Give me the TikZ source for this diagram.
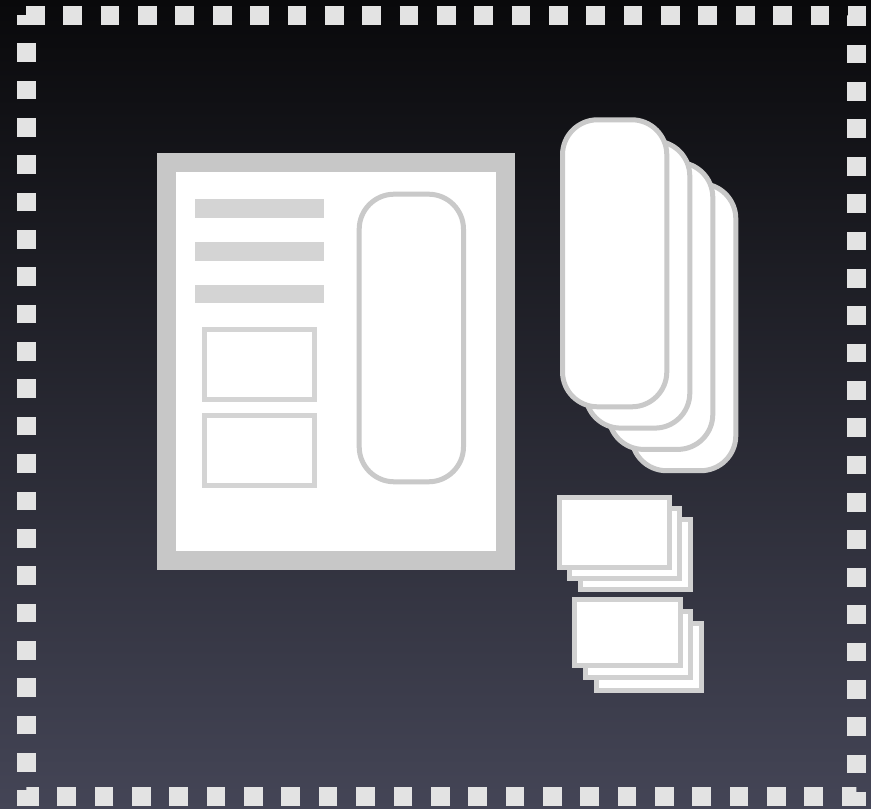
\documentclass[tikz,border=0pt]{standalone}
\usepackage{xcolor}
\usepackage{tikz}
\definecolor{bgtop}{RGB}{9,9,11}
\definecolor{bgmid}{RGB}{30,30,38}
\definecolor{bgbot}{RGB}{68,69,86}
\definecolor{dashsq}{gray}{0.89}
\definecolor{frameline}{gray}{0.78}
\definecolor{barfill}{gray}{0.83}
\definecolor{pillline}{gray}{0.79}
\definecolor{cardline}{gray}{0.82}

\begin{document}
\begin{tikzpicture}[x=1pt,y=1pt]
  \useasboundingbox (0,0) rectangle (871,809);
  \shade[top color=bgtop,middle color=bgmid,bottom color=bgbot]
    (0,0) rectangle (871,809);

  \draw[dashsq,line width=19pt,dash pattern=on 18.7pt off 18.66pt]
    (26,793.5) -- (856,793.5) -- (856,12.5) -- (26,12.5) -- cycle;

  \draw[frameline,fill=white,line width=19pt] (166.5,248.5) rectangle (505.5,646.5);

  \foreach \ylo/\yhi in {590.5/609.5,548/567,505.5/524} {
    \fill[barfill] (195,\ylo) rectangle (323.5,\yhi);
  }

  \foreach \ylo/\yhi in {409.2/479.2,323.8/393.8} {
    \draw[barfill,fill=white,line width=5pt] (204.8,\ylo) rectangle (314.2,\yhi);
  }

  \draw[pillline,fill=white,line width=5pt,rounded corners=35pt]
    (359.2,327.2) rectangle (463.5,614.8);

  \foreach \k in {3,2,1,0} {
    \draw[pillline,fill=white,line width=5pt,rounded corners=35pt]
      (562.5+23*\k,402.2-21.3*\k) rectangle (666.8+23*\k,689.2-21.3*\k);
  }

  \foreach \k in {2,1,0} {
    \draw[cardline,fill=white,line width=5pt]
      (559.2+10.7*\k,241.5-11*\k) rectangle (669.2+10.7*\k,311.5-11*\k);
  }

  \foreach \k in {2,1,0} {
    \draw[cardline,fill=white,line width=5pt]
      (574.8+10.7*\k,143.2-12.2*\k) rectangle (680.2+10.7*\k,209.8-12.2*\k);
  }
\end{tikzpicture}
\end{document}
